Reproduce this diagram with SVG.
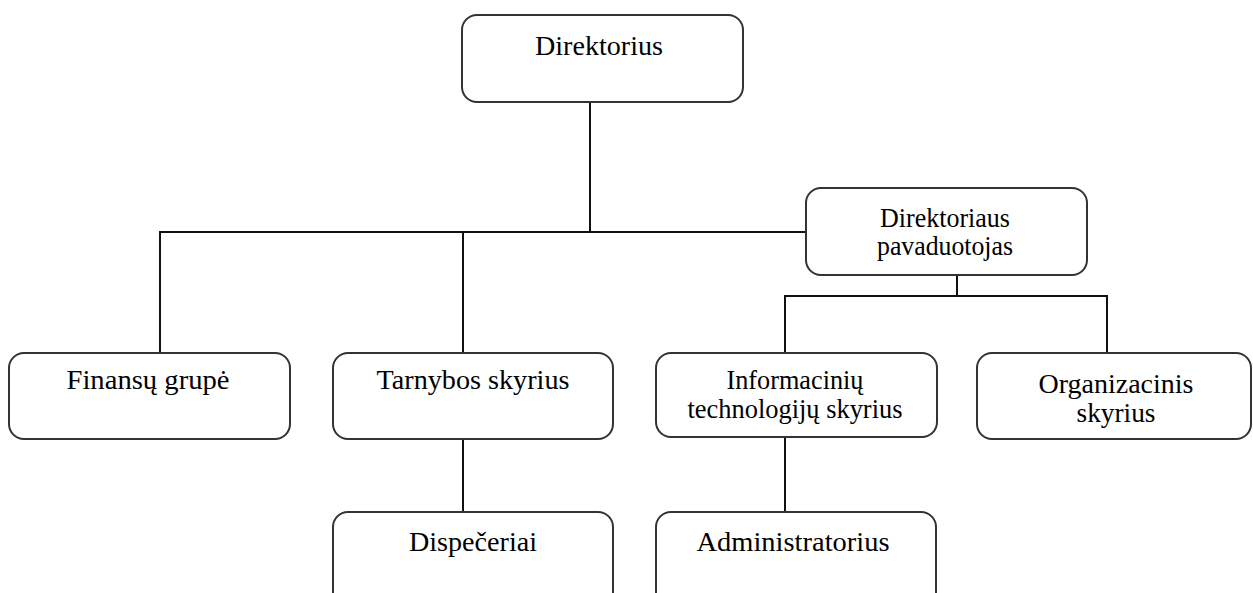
<svg xmlns="http://www.w3.org/2000/svg" width="1253" height="593" viewBox="0 0 1253 593">
  <style>
    .box { fill: #ffffff; stroke: #333333; stroke-width: 2; }
    .wire { fill: none; stroke: #111111; stroke-width: 2; }
    .lbl { font-family: "Liberation Serif", "Times New Roman", serif; font-size: 27px; fill: #000000; text-anchor: middle; }
  </style>
  <rect width="1253" height="593" fill="#ffffff"/>

  <!-- connectors -->
  <g id="connectors">
    <path class="wire" d="M590 102 V232"/>
    <path class="wire" d="M160 353 V232 H806"/>
    <path class="wire" d="M463 232 V353"/>
    <path class="wire" d="M463 439 V512"/>
    <path class="wire" d="M957 275 V296"/>
    <path class="wire" d="M785 353 V296 H1107 V353"/>
    <path class="wire" d="M785 437 V512"/>
  </g>

  <g id="direktorius">
    <rect class="box" x="462" y="15" width="281" height="87" rx="15"/>
    <text class="lbl" x="599" y="55" textLength="128" lengthAdjust="spacingAndGlyphs">Direktorius</text>
  </g>

  <g id="pavaduotojas">
    <rect class="box" x="806" y="188" width="281" height="87" rx="15"/>
    <text class="lbl" x="945" y="227" textLength="130" lengthAdjust="spacingAndGlyphs">Direktoriaus</text>
    <text class="lbl" x="945" y="255" textLength="136" lengthAdjust="spacingAndGlyphs">pavaduotojas</text>
  </g>

  <g id="finansu-grupe">
    <rect class="box" x="9" y="353" width="281" height="86" rx="15"/>
    <text class="lbl" x="148" y="389" textLength="163" lengthAdjust="spacingAndGlyphs">Finansų grupė</text>
  </g>

  <g id="tarnybos-skyrius">
    <rect class="box" x="333" y="353" width="280" height="86" rx="15"/>
    <text class="lbl" x="473" y="389" textLength="193" lengthAdjust="spacingAndGlyphs">Tarnybos skyrius</text>
  </g>

  <g id="it-skyrius">
    <rect class="box" x="656" y="353" width="281" height="84" rx="15"/>
    <text class="lbl" x="795" y="389" textLength="137" lengthAdjust="spacingAndGlyphs">Informacinių</text>
    <text class="lbl" x="795" y="418" textLength="215" lengthAdjust="spacingAndGlyphs">technologijų skyrius</text>
  </g>

  <g id="organizacinis-skyrius">
    <rect class="box" x="977" y="353" width="274" height="86" rx="15"/>
    <text class="lbl" x="1116" y="393" textLength="155" lengthAdjust="spacingAndGlyphs">Organizacinis</text>
    <text class="lbl" x="1116" y="422" textLength="79" lengthAdjust="spacingAndGlyphs">skyrius</text>
  </g>

  <g id="dispeceriai">
    <rect class="box" x="333" y="512" width="280" height="95" rx="15"/>
    <text class="lbl" x="473" y="551" textLength="128" lengthAdjust="spacingAndGlyphs">Dispečeriai</text>
  </g>

  <g id="administratorius">
    <rect class="box" x="656" y="512" width="280" height="95" rx="15"/>
    <text class="lbl" x="793" y="551" textLength="193" lengthAdjust="spacingAndGlyphs">Administratorius</text>
  </g>
</svg>
